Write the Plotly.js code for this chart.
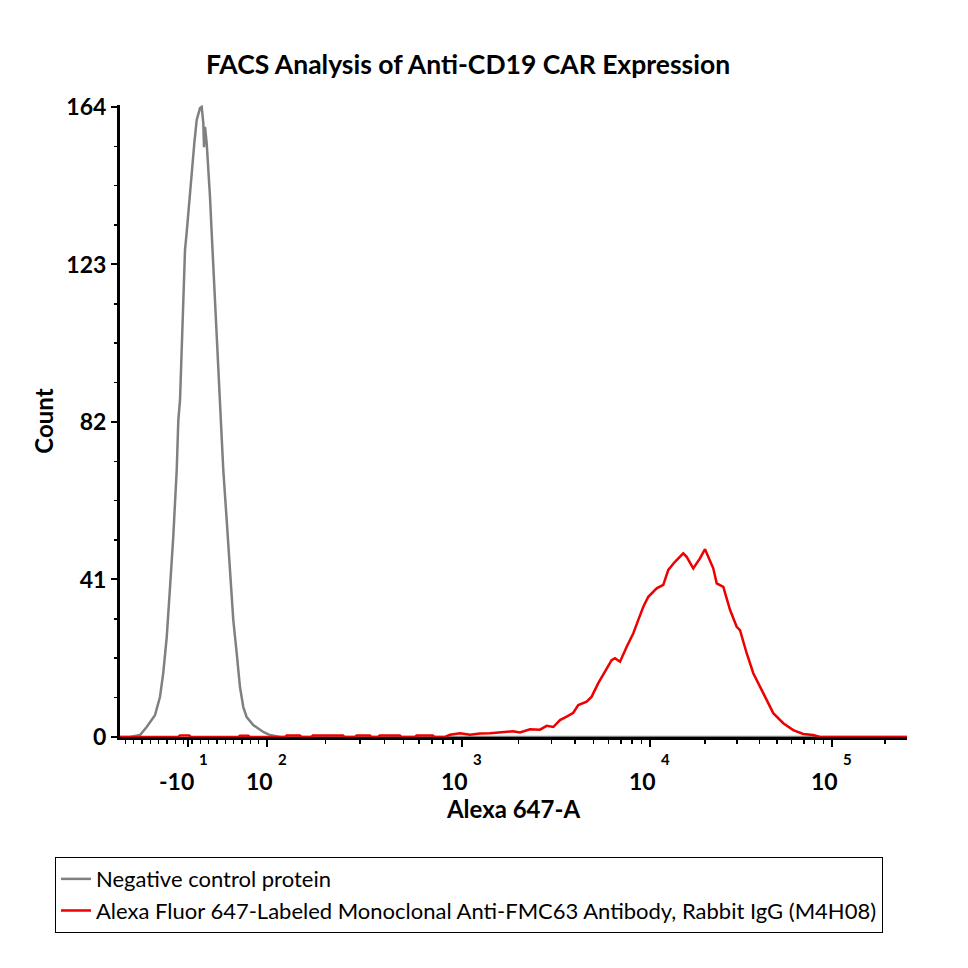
<!DOCTYPE html>
<html>
<head>
<meta charset="utf-8">
<script src="https://cdn.plot.ly/plotly-3.0.1.min.js"></script>
<style>
  html, body { margin: 0; padding: 0; background: #ffffff; }
  #chart { width: 968px; height: 968px; }
</style>
</head>
<body>
<div id="chart"></div>
<script>
// Histograms on the biexponential display scale (channel 0-1024) of Alexa 647-A.

// Negative control protein
const controlChannel = [0, 13, 26.0, 34.7, 45.5, 52.0, 56.3, 60.8, 65.1, 69.3, 73.8, 75.9, 78.1, 80.3, 82.4,
  84.6, 86.8, 88.9, 91.1, 94.1, 96.7, 99.8, 104.1, 106.3, 108.4, 109.3, 110.6, 112.8, 114.9, 117.1,
  119.3, 121.4, 124.9, 127.9, 131.0, 134.4, 138.8, 143.1, 147.4, 151.8, 156.1, 160.4, 164.8, 173.4,
  186.4, 195.2, 208.2, 1024];
const controlCount = [0, 0, 0.5, 2.6, 5.7, 10.4, 16.7, 26.0, 39.0, 52.1, 69.5, 82.5, 87.7, 100.7, 113.7,
  126.8, 131.4, 136.4, 142.4, 148.4, 154.6, 160.6, 163.7, 164, 159.8, 153.5, 158.8, 154.6, 148.4, 140.6,
  131.2, 122.3, 109.3, 96.3, 82.5, 69.5, 56.5, 43.5, 30.5, 21.9, 13.0, 7.8, 5.2, 3.1,
  1.3, 0.5, 0, 0];

// Alexa Fluor 647-labeled anti-FMC63 antibody
const stainedChannel = [0, 76, 78, 90, 92, 154, 156, 167, 169, 215, 217, 234, 236, 249, 251, 290, 292,
  306, 308, 325, 327, 336, 338, 364, 366, 384, 386, 407, 409, 423, 429.4, 442.4, 455.4, 468.4, 481.4,
  494.4, 511.3, 520.4, 533.5, 546.5, 555.2, 563.8, 572.5, 581.2, 589.8, 596.3, 607.2, 613.7, 622.3,
  631.0, 639.7, 644.0, 650.6, 659.3, 667.9, 674.4, 680.9, 687.4, 698.3, 706.9, 713.4, 722.1, 732.9,
  737.3, 745.9, 754.6, 761.2, 765.4, 771.9, 776.4, 785.0, 793.7, 802.4, 806.7, 815.4, 824.0, 832.7,
  841.4, 850.0, 863.0, 876.0, 889.0, 902.0, 910.8, 1024];
const stainedCount = [0, 0, 0.4, 0.4, 0, 0, 0.3, 0.3, 0, 0, 0.4, 0.4, 0, 0, 0.4, 0.4, 0,
  0, 0.4, 0.4, 0, 0, 0.4, 0.4, 0, 0, 0.4, 0.4, 0, 0, 0.6, 1.0, 0.6, 0.9, 1.0,
  1.3, 1.5, 1.2, 2.0, 1.9, 2.9, 2.6, 4.4, 5.3, 6.3, 8.3, 9.2, 10.5, 14.0,
  17.0, 20.0, 20.5, 19.6, 23.5, 27.0, 30.5, 33.9, 36.5, 38.7, 39.6, 43.5, 45.6, 47.8,
  46.9, 43.9, 46.5, 48.9, 46.9, 43.9, 40.0, 39.1, 33.1, 28.7, 27.8, 21.8, 16.6, 13.1,
  9.6, 6.2, 3.6, 1.8, 0.8, 0.5, 0, 0];

// Axis decorations
const majorTickChannel = [88.5, 191.3, 445.0, 689.6, 926.4];
const majorTickBase = ['-10', '10', '10', '10', '10'];
const majorTickExp = ['1', '2', '3', '4', '5'];
const linearMinorStep = 10.84;
const countTicks = [0, 41, 82, 123, 164];

const seriesNames = ['Negative control protein',
  'Alexa Fluor 647-Labeled Monoclonal Anti-FMC63 Antibody, Rabbit IgG (M4H08)'];

// Minor ticks: linear steps below 10^2, log-spaced positions within each decade above.
const xMinor = [];
for (let c = majorTickChannel[1] - linearMinorStep; c > 0; c -= linearMinorStep) xMinor.push(c);
const decadeStarts = majorTickChannel.slice(1);
for (let i = 0; i < decadeStarts.length; i++) {
  const start = decadeStarts[i];
  const width = i + 1 < decadeStarts.length ? decadeStarts[i + 1] - start
                                             : start - decadeStarts[i - 1] - 8;
  for (let k = 2; k <= 9; k++) {
    const c = start + Math.log10(k) * width;
    if (c < 1024) xMinor.push(c);
  }
}

const FONT = 'Lato, "Open Sans", sans-serif';

const traces = [
  { x: controlChannel, y: controlCount, name: seriesNames[0], type: 'scatter', mode: 'lines',
    line: { color: '#808080', width: 2.5 } },
  { x: stainedChannel, y: stainedCount, name: seriesNames[1], type: 'scatter', mode: 'lines',
    line: { color: '#ee0000', width: 2.5 } }
];

const annotations = [];
majorTickChannel.forEach((c, i) => {
  annotations.push({ x: c, xref: 'x', y: 0, yref: 'paper', text: majorTickBase[i],
    showarrow: false, xanchor: 'right', yanchor: 'top', xshift: 8, yshift: -28,
    font: { family: FONT, size: 23, color: '#000', weight: 'bold' } });
  annotations.push({ x: c, xref: 'x', y: 0, yref: 'paper', text: majorTickExp[i],
    showarrow: false, xanchor: 'left', yanchor: 'top', xshift: 9, yshift: -11,
    font: { family: FONT, size: 15, color: '#000', weight: 'bold' } });
});

const layout = {
  width: 968, height: 968,
  paper_bgcolor: '#ffffff', plot_bgcolor: '#ffffff',
  margin: { l: 120, r: 61, t: 105, b: 231 },
  font: { family: FONT, color: '#000' },
  title: { text: '<b>FACS Analysis of Anti-CD19 CAR Expression</b>', x: 0.4835, xref: 'container',
    xanchor: 'center', y: 0.933, yanchor: 'middle', font: { family: FONT, size: 26.5, color: '#000' } },
  xaxis: {
    range: [0, 1024], showgrid: false, zeroline: false,
    showline: true, linecolor: '#000', linewidth: 3,
    tickmode: 'array', tickvals: majorTickChannel, showticklabels: false,
    ticks: 'outside', ticklen: 7, tickwidth: 2, tickcolor: '#000',
    minor: { tickmode: 'array', tickvals: xMinor, ticks: 'outside', ticklen: 4, tickwidth: 1.5, tickcolor: '#000' },
    title: { text: '<b>Alexa 647-A</b>', standoff: 56, font: { family: FONT, size: 24, color: '#000' } }
  },
  yaxis: {
    range: [0, 164.5], showgrid: false, zeroline: false,
    showline: true, linecolor: '#000', linewidth: 3,
    tickmode: 'array', tickvals: countTicks, ticktext: countTicks.map(String),
    ticks: 'outside', ticklen: 6, tickwidth: 2, tickcolor: '#000',
    tickfont: { family: FONT, size: 23, color: '#000', weight: 'bold' },
    minor: { tick0: 0, dtick: 10.25, ticks: 'outside', ticklen: 3, tickwidth: 1.5, tickcolor: '#000' },
    title: { text: '<b>Count</b>', standoff: 6, font: { family: FONT, size: 24, color: '#000' } }
  },
  showlegend: true,
  legend: {
    x: -0.0826, xanchor: 'left', y: -0.19, yanchor: 'top',
    bgcolor: '#ffffff', bordercolor: '#000', borderwidth: 1,
    font: { family: FONT, size: 22, color: '#000' },
    itemwidth: 30, tracegroupgap: 0
  },
  annotations: annotations
};

Plotly.newPlot('chart', traces, layout, { displayModeBar: false, staticPlot: true });
</script>
</body>
</html>
